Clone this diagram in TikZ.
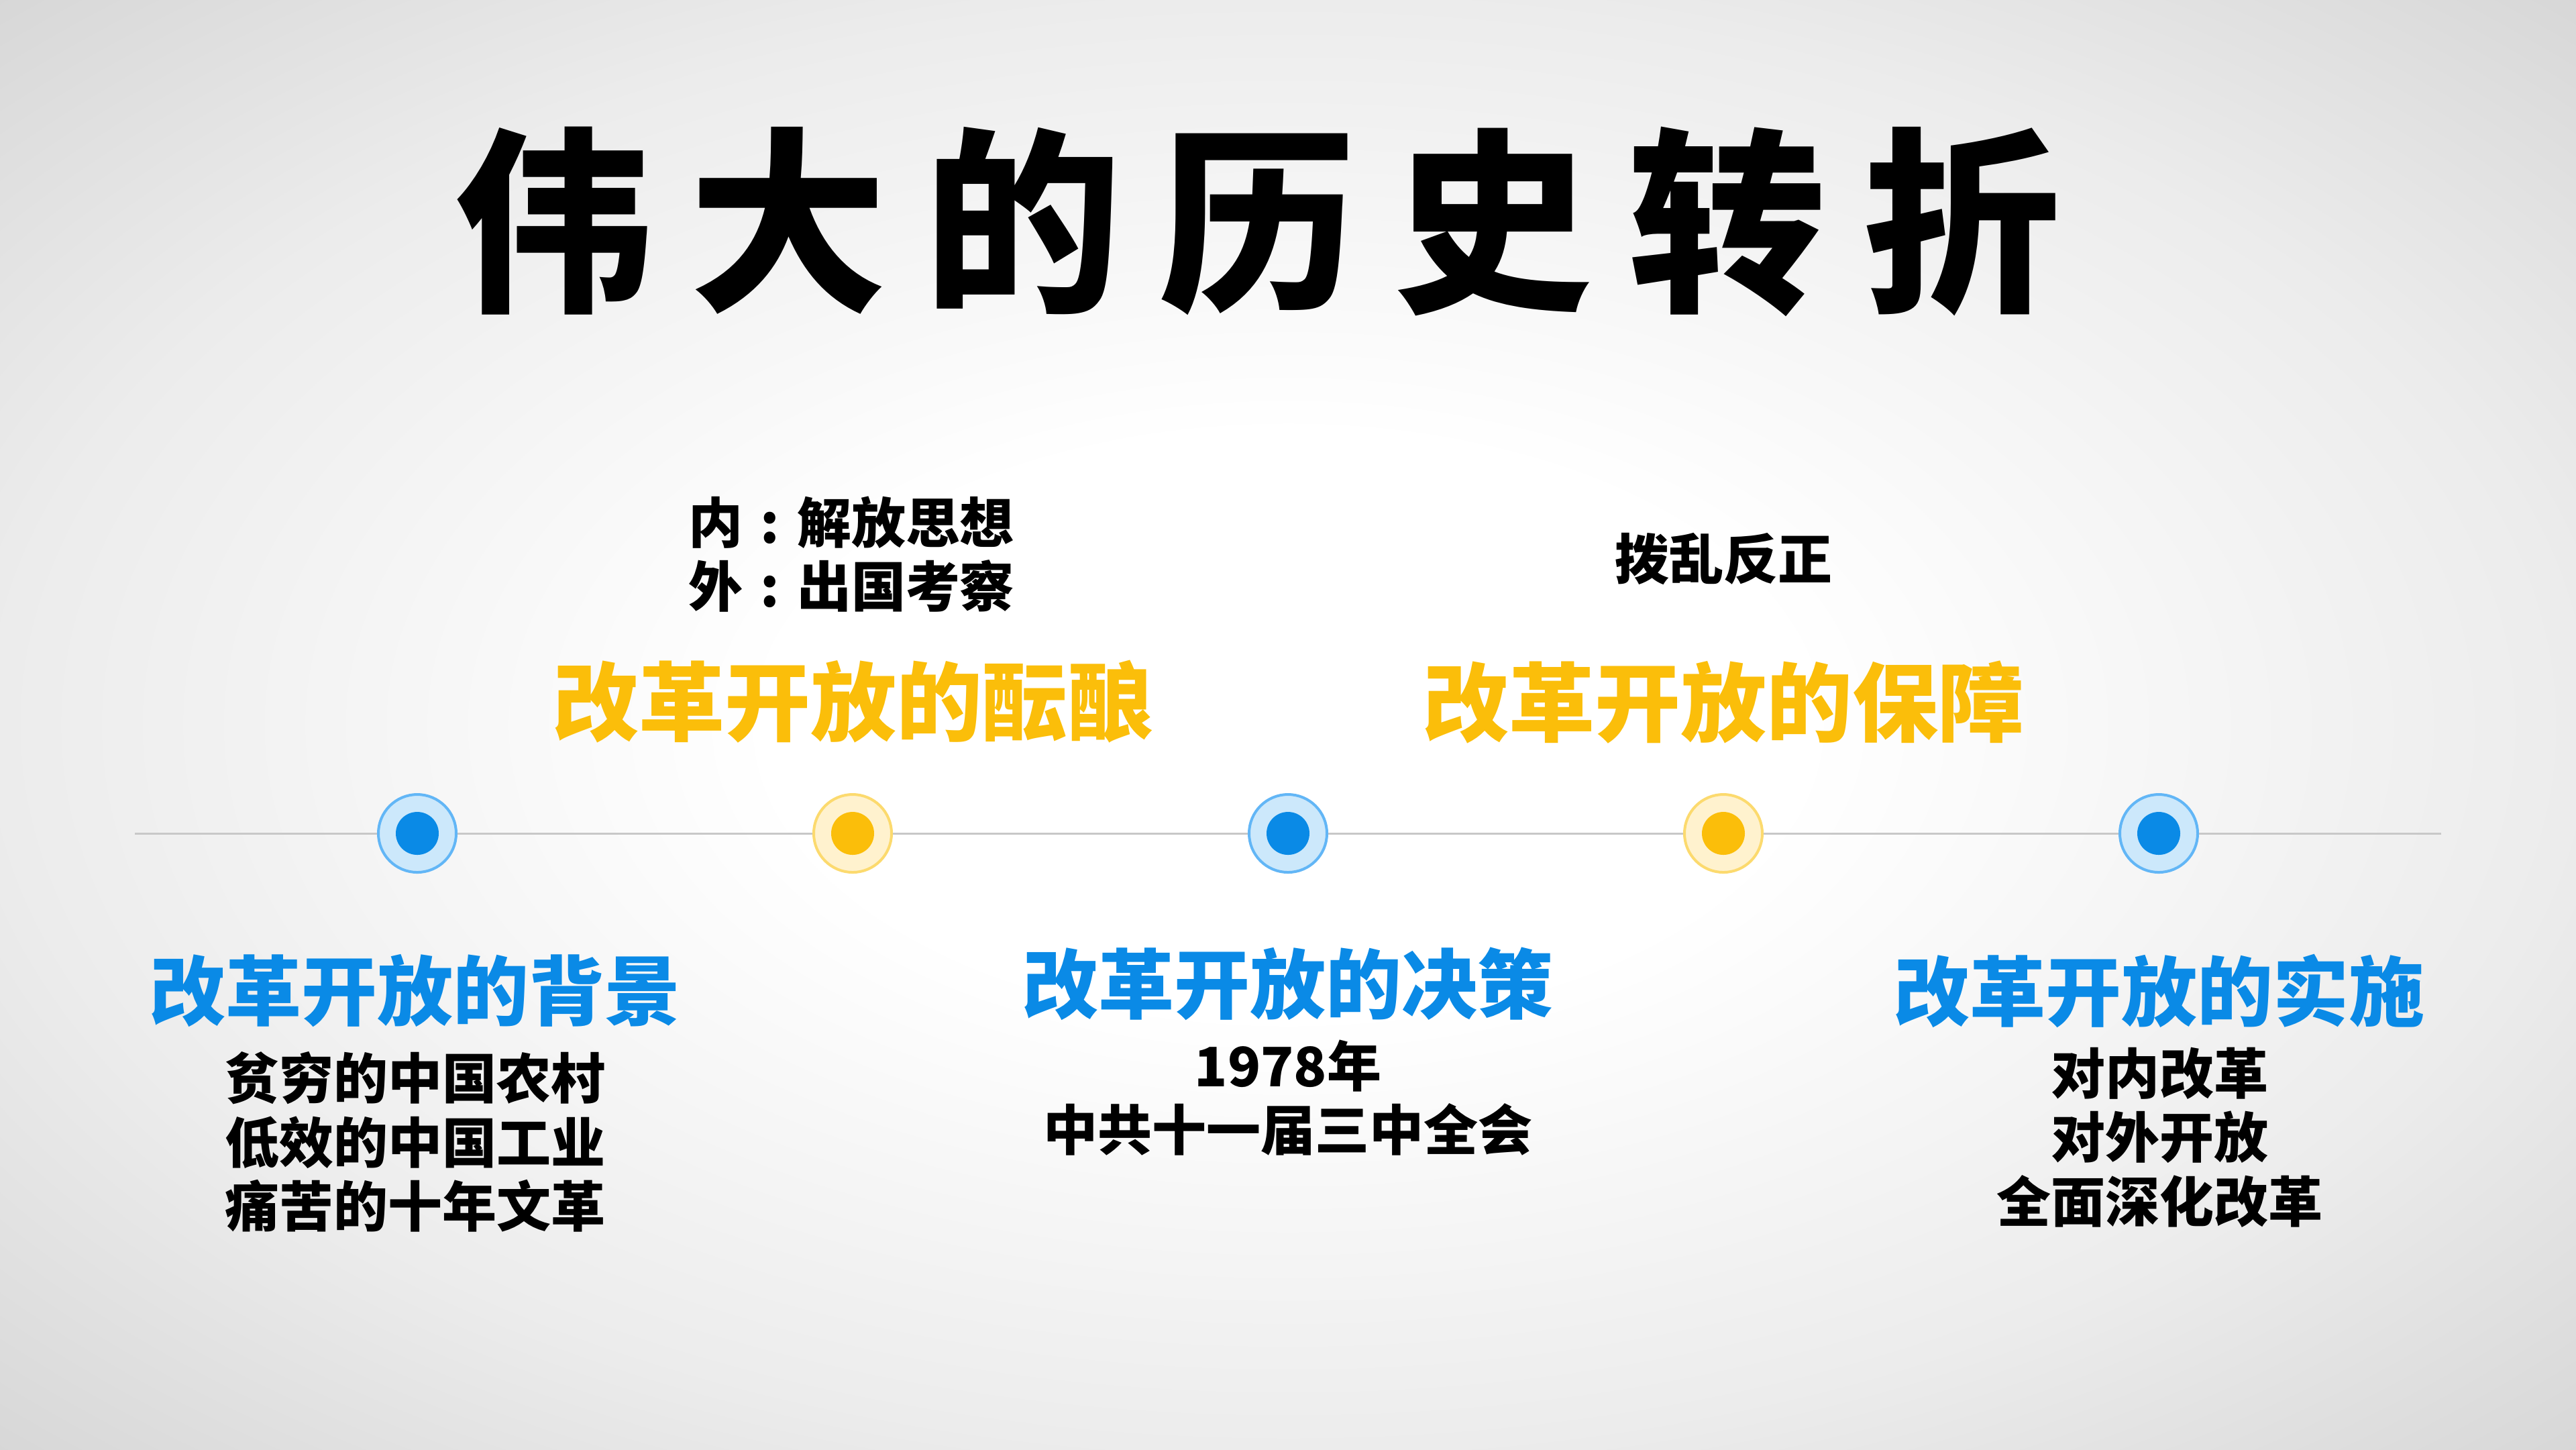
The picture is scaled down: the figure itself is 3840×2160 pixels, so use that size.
\documentclass[tikz,border=0pt]{standalone}
\usepackage{fontspec}
\newfontfamily\cjk{Noto Sans CJK SC}
\definecolor{bgedge}{RGB}{214,214,214}
\definecolor{bgmid}{RGB}{236,236,236}
\definecolor{blueT}{RGB}{10,138,230}
\definecolor{blueRing}{RGB}{98,182,246}
\definecolor{blueFill}{RGB}{204,232,251}
\definecolor{yellowT}{RGB}{251,190,10}
\definecolor{yellowRing}{RGB}{252,218,110}
\definecolor{yellowFill}{RGB}{255,242,206}
\definecolor{lineC}{RGB}{200,200,200}
\pgfdeclareradialshading{bgshade}{\pgfpoint{0bp}{0bp}}{color(0bp)=(white); color(10bp)=(white); color(25bp)=(bgmid); color(36bp)=(bgedge); color(50bp)=(bgedge)}
\newcommand{\mycolon}{\makebox[1em][c]{:}}
\tikzset{
  outerB/.style={circle, draw=blueRing, fill=blueFill, line width=0.4pt, minimum size=11.6pt, inner sep=0pt},
  outerY/.style={circle, draw=yellowRing, fill=yellowFill, line width=0.4pt, minimum size=11.6pt, inner sep=0pt},
  innerB/.style={circle, fill=blueT, minimum size=6.4pt, inner sep=0pt},
  innerY/.style={circle, fill=yellowT, minimum size=6.4pt, inner sep=0pt},
  headB/.style={text=blueT, font=\cjk\bfseries\fontsize{11.3}{13}\selectfont, inner sep=0pt},
  headY/.style={text=yellowT, font=\cjk\bfseries\fontsize{12.8}{15}\selectfont, inner sep=0pt},
  body/.style={text=black, font=\cjk\bfseries\fontsize{8.1}{9.55}\selectfont, align=center, inner sep=0pt},
  bodyL/.style={text=black, font=\cjk\bfseries\fontsize{8.1}{9.55}\selectfont, align=left, inner sep=0pt},
  tline/.style={draw=lineC, line width=0.3pt}
}
\begin{document}
\begin{tikzpicture}[x=0.1pt,y=-0.1pt]
\useasboundingbox (0,0) rectangle (3840,2160);
\shade[shading=bgshade] (0,0) rectangle (3840,2160);
% title
\node[font=\cjk\bfseries\fontsize{29.5}{32}\selectfont, inner sep=0pt] (title) at (1875,330)
  {伟\hspace{5.5pt}大\hspace{5.5pt}的\hspace{5.5pt}历\hspace{5.5pt}史\hspace{5.5pt}转\hspace{5.5pt}折};
% timeline
\coordinate (L) at (201,1242);
\coordinate (R) at (3639,1242);
\node[outerB] (c1) at (622,1242) {};
\node[outerY] (c2) at (1271,1242) {};
\node[outerB] (c3) at (1920,1242) {};
\node[outerY] (c4) at (2569,1242) {};
\node[outerB] (c5) at (3218,1242) {};
\draw[tline] (L) -- (c1) -- (c2) -- (c3) -- (c4) -- (c5) -- (R);
\node[innerB] (d1) at (c1) {};
\node[innerY] (d2) at (c2) {};
\node[innerB] (d3) at (c3) {};
\node[innerY] (d4) at (c4) {};
\node[innerB] (d5) at (c5) {};
% bottom texts
\node[headB] (h1) at (619,1477) {改革开放的背景};
\node[body] (b1) at (619,1702) {贫穷的中国农村\\低效的中国工业\\痛苦的十年文革};
\node[headB] (h3) at (1920,1466) {改革开放的决策};
\node[body] (b3) at (1920,1636) {1978年\\中共十一届三中全会};
\node[headB] (h5) at (3219,1477) {改革开放的实施};
\node[body] (b5) at (3219,1695) {对内改革\\对外开放\\全面深化改革};
% top texts
\node[headY] (h2) at (1272,1046) {改革开放的酝酿};
\node[bodyL] (b2) at (1269,826) {内\mycolon 解放思想\\外\mycolon 出国考察};
\node[headY] (h4) at (2569,1046) {改革开放的保障};
\node[body] (b4) at (2569,833) {拨乱反正};
\end{tikzpicture}
\end{document}
